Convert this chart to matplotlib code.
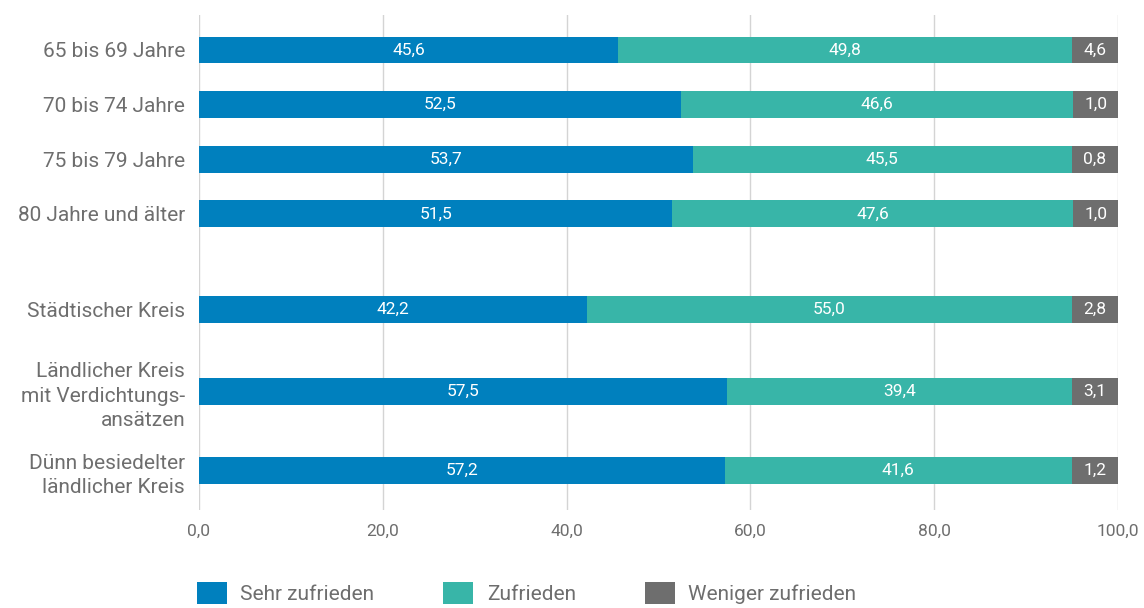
import numpy as np
import matplotlib.pyplot as plt
from matplotlib.patches import Patch

# Categories (top to bottom)
categories = ['65 bis 69 Jahre', '70 bis 74 Jahre', '75 bis 79 Jahre', '80 Jahre und älter',
              'Städtischer Kreis', 'Ländlicher Kreis\nmit Verdichtungs-\nansätzen',
              'Dünn besiedelter\nländlicher Kreis']
sehr_zufrieden = [45.6, 52.5, 53.7, 51.5, 42.2, 57.5, 57.2]
zufrieden = [49.8, 46.6, 45.5, 47.6, 55.0, 39.4, 41.6]
weniger_zufrieden = [4.6, 1.0, 0.8, 1.0, 2.8, 3.1, 1.2]
series_names = ['Sehr zufrieden', 'Zufrieden', 'Weniger zufrieden']
xticks = [0, 20, 40, 60, 80, 100]

colors = ['#0080be', '#38b5a8', '#6e6e6e']
text_col = '#6e6e6e'
plt.rcParams['font.family'] = ['Roboto', 'DejaVu Sans']

# row positions (gap between the age group block and the region block)
ypos = np.array([0, 1, 2, 3, 4.75, 6.25, 7.7])

s1 = np.array(sehr_zufrieden)
s2 = np.array(zufrieden)
s3 = np.array(weniger_zufrieden)
# the small segment gets a minimum drawn width so its label fits; taken from the middle segment
s3_draw = np.maximum(s3, 5.0)
s2_draw = s2 - (s3_draw - s3)

fig = plt.figure(figsize=(11.44, 6.08), dpi=100)
ax = fig.add_axes([199 / 1144, 1 - 510 / 608, (1118 - 199) / 1144, (510 - 15) / 608])

h = 0.49
ax.barh(ypos, s1, height=h, color=colors[0], zorder=3)
ax.barh(ypos, s2_draw, left=s1, height=h, color=colors[1], zorder=3)
ax.barh(ypos, s3_draw, left=s1 + s2_draw, height=h, color=colors[2], zorder=3)

def fmt(v):
    return f'{v:.1f}'.replace('.', ',')

for y, a, b, c, bd, cd in zip(ypos, s1, s2, s3, s2_draw, s3_draw):
    ax.text(a / 2, y, fmt(a), color='white', ha='center', va='center', fontsize=12.5, zorder=4)
    ax.text(a + bd / 2, y, fmt(b), color='white', ha='center', va='center', fontsize=12.5, zorder=4)
    ax.text(a + bd + cd / 2, y, fmt(c), color='white', ha='center', va='center', fontsize=12.5, zorder=4)

ax.set_xlim(0, 100)
ax.set_ylim(8.42, -0.64)
ax.set_xticks(xticks)
ax.set_xticklabels([fmt(t) for t in xticks], color=text_col, fontsize=12.5)
ax.set_yticks(ypos)
ax.set_yticklabels(categories, color=text_col, fontsize=15, linespacing=1.35)
ax.tick_params(axis='both', length=0)
ax.tick_params(axis='x', pad=10)
ax.tick_params(axis='y', pad=10)
for sp in ax.spines.values():
    sp.set_visible(False)
ax.grid(axis='x', color='#d4d4d4', linewidth=1, zorder=0)
ax.set_axisbelow(True)

handles = [Patch(facecolor=c) for c in colors]
fig.legend(handles, series_names, loc='lower left', bbox_to_anchor=(178 / 1144, -0.024),
           ncol=3, frameon=False, fontsize=15, labelcolor=text_col,
           handlelength=1.45, handleheight=1.25, handletextpad=0.65, columnspacing=3.3)

fig.savefig('out.png', dpi=100)
